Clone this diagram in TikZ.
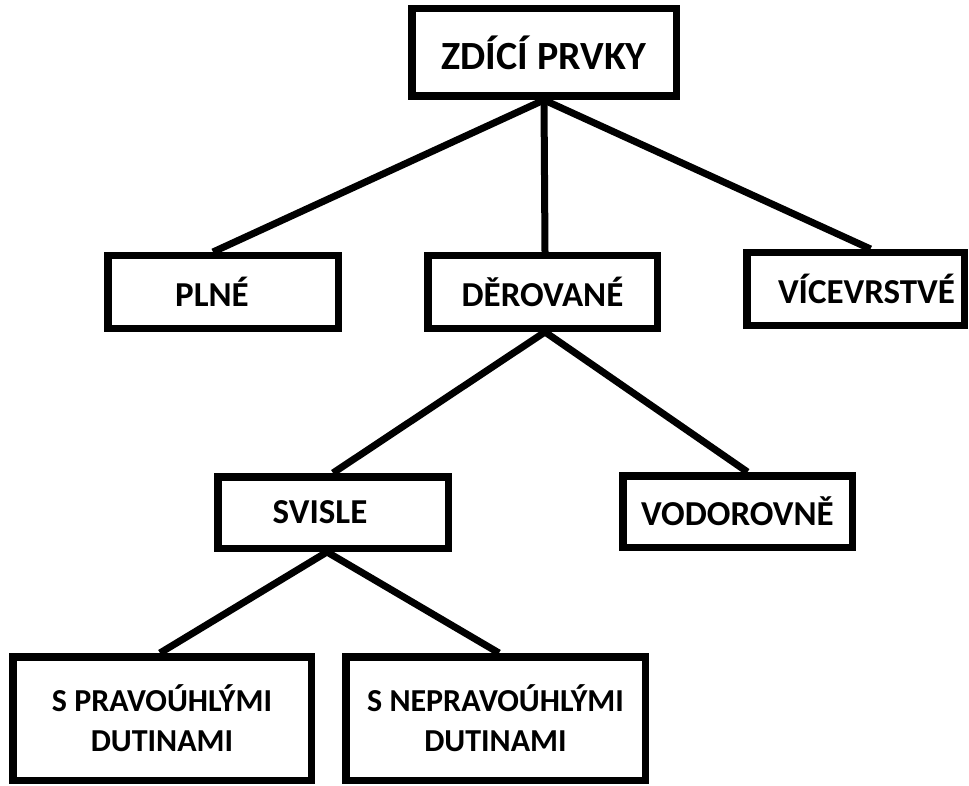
\documentclass[tikz,border=0pt]{standalone}
\usepackage{fontspec}
\setmainfont{Carlito}
\begin{document}
\begin{tikzpicture}[x=1pt,y=-1pt,
  box/.style={draw=black,line width=7.5pt,fill=white,inner sep=0pt,font=\bfseries,align=center},
  toptext/.style={font=\bfseries\fontsize{40}{48}\selectfont},
  midtext/.style={font=\bfseries\fontsize{35}{42}\selectfont},
  lowtext/.style={font=\bfseries\fontsize{32}{40}\selectfont},
  conn/.style={draw=black,line width=7pt}]
\useasboundingbox (0,0) rectangle (969,786);
\node[box,toptext,minimum width=264.5pt,minimum height=87.5pt] (top) at (544,52.5) {ZDÍCÍ PRVKY};
\node[box,midtext,minimum width=230.5pt,minimum height=72.5pt] (plne) at (223,292) {\hspace*{-22pt}PLNÉ};
\node[box,midtext,minimum width=229.5pt,minimum height=72.5pt] (der) at (542.5,292) {DĚROVANÉ};
\node[box,midtext,minimum width=217.5pt,minimum height=72.5pt] (vic) at (855.5,289) {VÍCEVRSTVÉ\hspace*{-22pt}};
\node[box,midtext,minimum width=230.5pt,minimum height=71.5pt] (svi) at (333,512.5) {\hspace*{-26pt}SVISLE};
\node[box,midtext,minimum width=229.5pt,minimum height=71.5pt] (vod) at (737.5,511.5) {VODOROVNĚ};
\node[box,lowtext,minimum width=298.5pt,minimum height=123.5pt] (spr) at (162,718.5) {S PRAVOÚHLÝMI\\DUTINAMI};
\node[box,lowtext,minimum width=299.5pt,minimum height=123.5pt] (snp) at (495.5,718.5) {S NEPRAVOÚHLÝMI\\DUTINAMI};
\draw[conn] (top.south) -- ([xshift=-10pt]plne.north);
\draw[conn] (top.south) -- ([xshift=2.5pt]der.north);
\draw[conn] (top.south) -- ([xshift=15pt]vic.north);
\draw[conn] ([xshift=2.5pt]der.south) -- (svi.north);
\draw[conn] ([xshift=2.5pt]der.south) -- ([xshift=10pt]vod.north);
\draw[conn] ([xshift=-6pt]svi.south) -- ([xshift=-2pt]spr.north);
\draw[conn] ([xshift=-6pt]svi.south) -- ([xshift=3.5pt]snp.north);
\end{tikzpicture}
\end{document}
